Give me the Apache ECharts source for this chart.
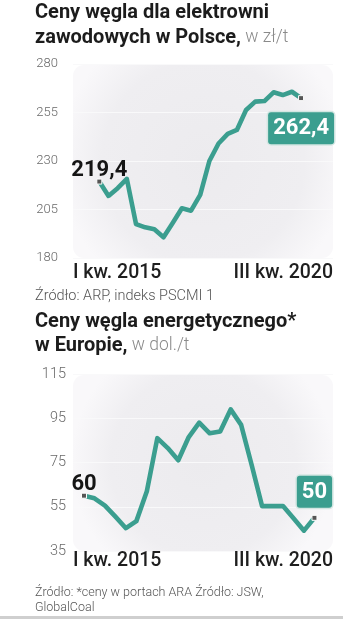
<!DOCTYPE html>
<html>
<head>
<meta charset="utf-8">
<script src="https://cdn.jsdelivr.net/npm/echarts@6/dist/echarts.min.js"></script>
<style>
html,body{margin:0;padding:0;background:#fff;}
#c{width:343px;height:619px;}
</style>
</head>
<body>
<div id="c"></div>
<script>
// ---- data ----
const categories = ['I kw. 2015','II kw. 2015','III kw. 2015','IV kw. 2015',
  'I kw. 2016','II kw. 2016','III kw. 2016','IV kw. 2016',
  'I kw. 2017','II kw. 2017','III kw. 2017','IV kw. 2017',
  'I kw. 2018','II kw. 2018','III kw. 2018','IV kw. 2018',
  'I kw. 2019','II kw. 2019','III kw. 2019','IV kw. 2019',
  'I kw. 2020','II kw. 2020','III kw. 2020'];
const polandPrices = [219.4, 212, 216, 220.8, 197.5, 195.8, 194.8, 190.7, 198, 205.6, 204.4, 212.5,
  230, 239, 244, 246, 256.3, 260.6, 260.9, 265.4, 264, 265.7, 262.4];
const europePrices = [60, 58.8, 55.5, 50.5, 45.3, 48.5, 62, 86, 81.5, 76, 86.5, 93,
  88.2, 89, 99, 92, 74, 55.3, 55.3, 55.3, 49.8, 44.2, 50];
const xTickLabels = ['I kw. 2015', 'III kw. 2020'];
const yTicksTop = [180, 205, 230, 255, 280];
const yTicksBottom = [35, 55, 75, 95, 115];

// ---- styles ----
const TEAL = '#3b9e8f';
const FONT = 'Roboto, "Noto Sans", sans-serif';
const fmt = v => String(v).replace('.', ',');

function buildSeries(values, gridIdx, firstOffset, lastPos, lastDist) {
  const n = values.length;
  const data = values.map((v, i) => {
    if (i === 0) {
      return {
        value: [i, v], symbol: 'rect', symbolSize: 5,
        itemStyle: {color: '#555', borderColor: '#fff', borderWidth: 1},
        label: {show: true, position: 'top', distance: 0, offset: [0, firstOffset],
          formatter: p => fmt(p.value[1]),
          fontFamily: FONT, fontSize: 22, fontWeight: 'bold', color: '#151515'}
      };
    }
    if (i === n - 1) {
      return {
        value: [i, v], symbol: 'rect', symbolSize: 5,
        itemStyle: {color: '#555', borderColor: '#fff', borderWidth: 1},
        label: {show: true, position: lastPos, distance: lastDist, formatter: p => fmt(p.value[1]),
          fontFamily: FONT, fontSize: 22, fontWeight: 'bold', color: '#fff',
          backgroundColor: TEAL, borderColor: '#d3e6e2', borderWidth: 1.5, borderRadius: 3,
          padding: [4, 5, 3, 5], lineHeight: 25}
      };
    }
    return {value: [i, v], symbol: 'none'};
  });
  return {
    type: 'line', xAxisIndex: gridIdx, yAxisIndex: gridIdx, data,
    lineStyle: {color: TEAL, width: 4.6, join: 'round'},
    itemStyle: {color: TEAL}, showSymbol: true, z: 5, silent: true, animation: false
  };
}

function xAxisDef(gridIdx, min, max, margin) {
  return {
    type: 'value', gridIndex: gridIdx, min, max,
    axisLine: {show: false}, axisTick: {show: false}, splitLine: {show: false},
    axisLabel: {
      show: true, customValues: [min, max], margin,
      alignMinLabel: 'left', alignMaxLabel: 'right',
      formatter: v => (Math.abs(v - min) < 1e-6 ? xTickLabels[0] : xTickLabels[1]),
      fontFamily: FONT, fontSize: 19.5, fontWeight: 500, color: '#1e1e1e'
    }
  };
}

function yAxisDef(gridIdx, ticks, margin, fontSize) {
  return {
    type: 'value', gridIndex: gridIdx,
    min: ticks[0], max: ticks[ticks.length - 1], interval: ticks[1] - ticks[0],
    axisLine: {show: false}, axisTick: {show: false},
    splitLine: {show: true, lineStyle: {color: '#f9f9fa', width: 1}},
    axisLabel: {margin, fontFamily: FONT, fontSize, fontWeight: 300, color: '#6a6a6a'}
  };
}

const bgFill = {
  type: 'radial', x: 0.5, y: 0.5, r: 0.75,
  colorStops: [{offset: 0, color: '#ecebee'}, {offset: 0.7, color: '#efeef1'}, {offset: 1, color: '#f9f8fa'}]
};

const titleRich = {
  b: {fontFamily: FONT, fontSize: 20, fontWeight: 'bold', color: '#1c1c1c', lineHeight: 25},
  l: {fontFamily: FONT, fontSize: 17.5, fontWeight: 300, color: '#8a8a8a', lineHeight: 25}
};
const titleRich2 = {
  b: {fontFamily: FONT, fontSize: 20, fontWeight: 'bold', color: '#1c1c1c', lineHeight: 24},
  l: {fontFamily: FONT, fontSize: 17.5, fontWeight: 300, color: '#8a8a8a', lineHeight: 24}
};

const option = {
  animation: false,
  backgroundColor: '#fff',
  title: [
    {left: 35, top: 0, padding: 0,
     text: '{b|Ceny węgla dla elektrowni}\n{b|zawodowych w Polsce,}{l| w zł/t}',
     textStyle: {rich: titleRich}},
    {left: 35, top: 289, padding: 0, text: 'Źródło: ARP, indeks PSCMI 1',
     textStyle: {fontFamily: FONT, fontSize: 14.5, fontWeight: 300, color: '#555'}},
    {left: 35, top: 310, padding: 0,
     text: '{b|Ceny węgla energetycznego*}\n{b|w Europie,}{l| w dol./t}',
     textStyle: {rich: titleRich2}},
    {left: 35, top: 585, padding: 0,
     text: 'Źródło: *ceny w portach ARA Źródło: JSW,\nGlobalCoal',
     textStyle: {fontFamily: FONT, fontSize: 12.5, fontWeight: 300, color: '#555', lineHeight: 15}}
  ],
  graphic: [
    {type: 'rect', z: -10, silent: true, shape: {x: 73, y: 65, width: 260, height: 193, r: 11}, style: {fill: bgFill}},
    {type: 'rect', z: -10, silent: true, shape: {x: 73, y: 375, width: 260, height: 176, r: 11}, style: {fill: bgFill}},
    {type: 'rect', z: -10, silent: true, shape: {x: 0, y: 616, width: 343, height: 3}, style: {fill: '#cfcfcf'}}
  ],
  grid: [
    {left: 73, top: 64, width: 260, height: 194},
    {left: 73, top: 374, width: 260, height: 177}
  ],
  xAxis: [
    xAxisDef(0, -2.87, 25.48, 5),
    xAxisDef(1, -1.05, 23.77, 0)
  ],
  yAxis: [
    yAxisDef(0, yTicksTop, 15, 13),
    yAxisDef(1, yTicksBottom, 7, 14.5)
  ],
  series: [
    buildSeries(polandPrices, 0, 3, 'bottom', 11),
    buildSeries(europePrices, 1, 3, 'top', 7)
  ]
};

const chart = echarts.init(document.getElementById('c'), null, {renderer: 'canvas'});
chart.setOption(option);
</script>
</body>
</html>
